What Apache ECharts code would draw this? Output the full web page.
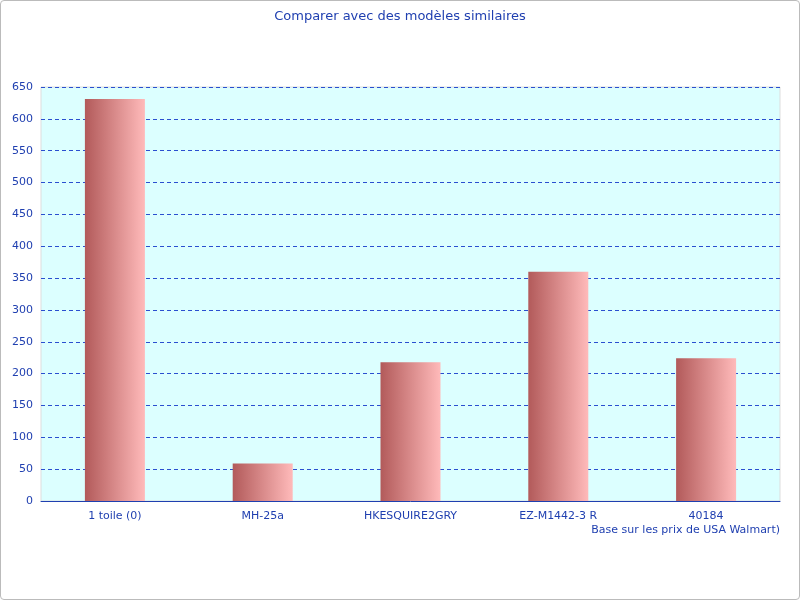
<!DOCTYPE html>
<html>
<head>
<meta charset="UTF-8">
<script src="https://cdn.jsdelivr.net/npm/echarts@6/dist/echarts.min.js"></script>
<style>
html,body{margin:0;padding:0;}
#c{width:798px;height:598px;border:1px solid #bbb;border-radius:4px;}
</style>
</head>
<body>
<div id="c"></div>
<script>
let categories = ["1 toile (0)", "MH-25a", "HKESQUIRE2GRY", "EZ-M1442-3 R", "40184"]
let values = [631, 59, 218, 360, 224]

let chart = echarts.init(document.getElementById('c'))
chart.setOption({
    title: {
        text: 'Comparer avec des modèles similaires',
        left: 'center', top: 4,
        textStyle: {color: '#1f3fb0', fontSize: 13, fontWeight: 'normal', fontFamily: 'DejaVu Sans'}
    },
    grid: {left: 40, right: 19, top: 86, bottom: 98, backgroundColor: '#dcffff', show: true, borderColor: '#ddd'},
    xAxis: {
        type: 'category', data: categories,
        name: 'Base sur les prix de USA Walmart)', nameLocation: 'end',
        nameGap: 0,
        nameTextStyle: {color: '#1f3fb0', fontSize: 11, align: 'right', verticalAlign: 'top', padding: [24, 0, 0, 0], fontFamily: 'DejaVu Sans'},
        axisLine: {lineStyle: {color: '#1f3fb0'}},
        axisTick: {lineStyle: {color: '#1f3fb0'}},
        axisLabel: {color: '#1f3fb0', fontSize: 11, margin: 10, fontFamily: 'DejaVu Sans'}
    },
    yAxis: {
        type: 'value', min: 0, max: 650, interval: 50,
        axisLine: {show: false},
        axisLabel: {color: '#1f3fb0', fontSize: 11, fontFamily: 'DejaVu Sans'},
        splitLine: {lineStyle: {color: '#2a4fd0', type: [4, 3]}}
    },
    series: [{
        type: 'bar', data: values, barWidth: 60,
        itemStyle: {color: new echarts.graphic.LinearGradient(0, 0, 1, 0, [
            {offset: 0, color: '#b25a5a'}, {offset: 1, color: '#ffbaba'}])}
    }]
})
</script>
</body>
</html>
